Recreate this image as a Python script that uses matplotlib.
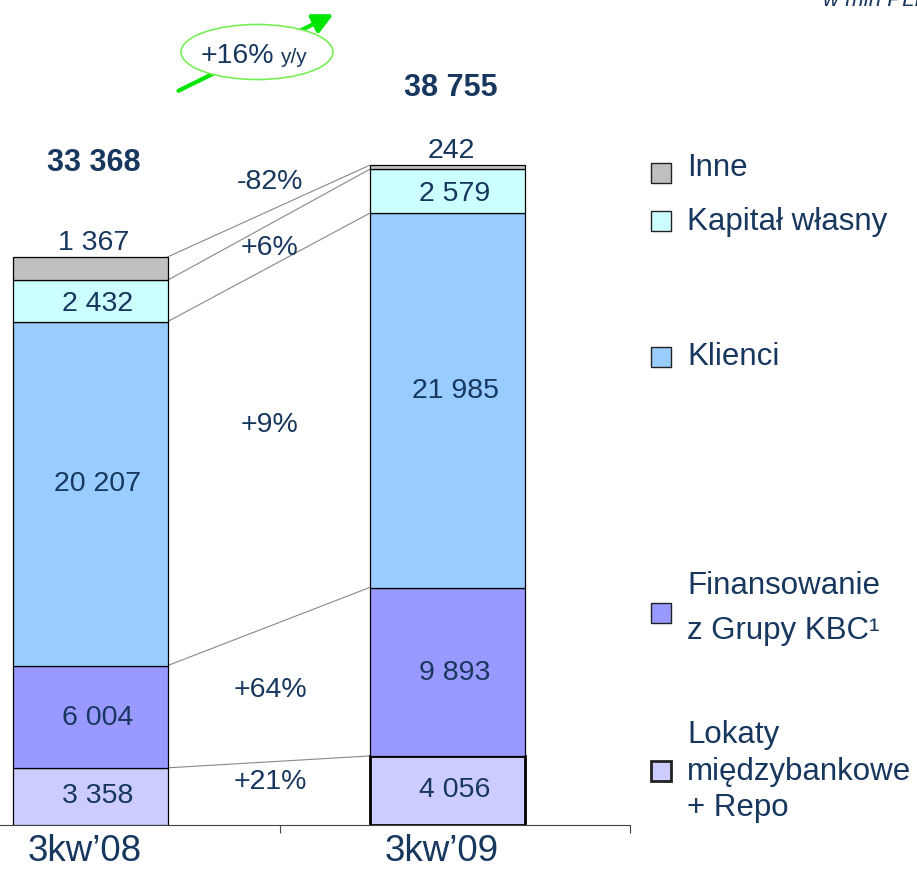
import numpy as np
import matplotlib
matplotlib.use("Agg")
import matplotlib.pyplot as plt
from matplotlib.patches import Ellipse, Rectangle

plt.rcParams['font.family'] = ['Liberation Sans', 'DejaVu Sans']

# data (mln PLN)
periods = ["3kw\u201908", "3kw\u201909"]
segments = ["Lokaty", "Finansowanie", "Klienci", "Kapita\u0142 w\u0142asny", "Inne"]
q3_08 = [3358, 6004, 20207, 2432, 1367]
q3_09 = [4056, 9893, 21985, 2579, 242]
changes = ["+21%", "+64%", "+9%", "+6%", "-82%"]
colors = ["#CCCCFF", "#9999FF", "#99CCFF", "#CCFFFF", "#C0C0C0"]
navy = "#17375E"

W, H = 917, 875
fig = plt.figure(figsize=(W/100, H/100), dpi=100)

# main axes: bottom at 825 px, bar centres at 90 / 447 px
px_x = 357.0
upp = sum(q3_08)/568.0   # units per pixel
ax = fig.add_axes([0, 50/H, 630/W, 825/H])
ax.set_xlim(-90/px_x, (630-90)/px_x)
ax.set_ylim(0, 825*upp)
bw = 155/px_x

data = np.array([q3_08, q3_09])
cum = np.cumsum(data, axis=1)
bottoms = cum - data

for k in range(len(segments)):
    for i in range(2):
        lw = 2 if (i == 1 and k == 0) else 0.9
        ax.bar(i, data[i, k], bottom=bottoms[i, k], width=bw, color=colors[k],
               edgecolor="black", linewidth=lw, zorder=3)

# connecting lines between segment tops
for k in range(len(segments)):
    ax.plot([bw/2, 1-bw/2], [cum[0, k], cum[1, k]], color="#888888", lw=0.8, zorder=2)

def fmt(v):
    return f"{v:,}".replace(",", " ")

dx = 8/px_x
lab_dy = [0, -1, 7, -2]   # points, nudges inside segments
for i in range(2):
    for k in range(4):
        ax.annotate(fmt(data[i, k]), (i+dx, bottoms[i, k] + data[i, k]/2), xytext=(0, lab_dy[k]),
                    textcoords="offset points", ha="center", va="center",
                    fontsize=20.5, color=navy, zorder=4)
    # small "Inne" value above bar
    ax.annotate(fmt(data[i, 4]), (i+dx/2, cum[i, 4]), xytext=(0, 10), textcoords="offset points",
                ha="center", va="center", fontsize=20.5, color=navy)

total_off = [68, 56]
for i in range(2):
    ax.annotate(fmt(cum[i, -1]), (i+dx/2, cum[i, -1]), xytext=(0, total_off[i]), textcoords="offset points",
                ha="center", va="center", fontsize=22, fontweight="bold", color=navy)

# change labels between bars
chg_off = [-8, -3, -16, 1, -26]
centers = (bottoms + data/2).mean(axis=0)
for k in range(len(segments)):
    ax.annotate(changes[k], (180/px_x, centers[k]), xytext=(0, -chg_off[k]), textcoords="offset points",
                ha="center", va="center", fontsize=20.5, color=navy)

for i, p in enumerate(periods):
    ax.annotate(p, (i - 5/px_x, 0), xytext=(0, -19), textcoords="offset points", ha="center", va="center",
                fontsize=26.5, color=navy)

for s in ["top", "right", "left"]:
    ax.spines[s].set_visible(False)
ax.spines["bottom"].set_color("#444444")
ax.set_yticks([])
ax.set_xticks([190/px_x, 540/px_x])
ax.set_xticklabels([])
ax.tick_params(axis="x", direction="out", length=6, color="#444444")

# overlay in pixel coordinates for legend & annotations
ov = fig.add_axes([0, 0, 1, 1])
ov.set_xlim(0, W)
ov.set_ylim(H, 0)
ov.axis("off")

ov.annotate("", xy=(336, 13), xytext=(176, 92),
            arrowprops=dict(arrowstyle="-|>", color="#00E600", lw=3, mutation_scale=30))
ov.add_patch(Ellipse((257, 52), 152, 55, facecolor="white", edgecolor="#77EE55", lw=1.2, zorder=5))
ov.text(274, 63, "+16%", ha="right", va="baseline", fontsize=20.5, color=navy, zorder=6)
ov.text(280, 63, "y/y", ha="left", va="baseline", fontsize=15, color=navy, zorder=6)

ov.text(823, 6, "w mln PLN", ha="left", va="baseline", fontsize=16, style="italic", color=navy)

# legend (top to bottom)
leg_sq = [173, 221, 357, 613, 771]
leg_lines = [[("Inne", 168)],
             [("Kapita\u0142 w\u0142asny", 222)],
             [("Klienci", 357)],
             [("Finansowanie", 586), ("z Grupy KBC\u00b9", 631)],
             [("Lokaty", 735), ("mi\u0119dzybankowe", 772), ("+ Repo", 808)]]
for j, k in enumerate([4, 3, 2, 1, 0]):
    lw = 2 if k == 0 else 1
    ov.add_patch(Rectangle((651, leg_sq[j]-10), 20, 20, facecolor=colors[k], edgecolor="#222222", lw=lw))
    for txt, y in leg_lines[j]:
        ov.text(687, y, txt, ha="left", va="center", fontsize=22.5, color=navy)

fig.savefig("out.png", dpi=100)
